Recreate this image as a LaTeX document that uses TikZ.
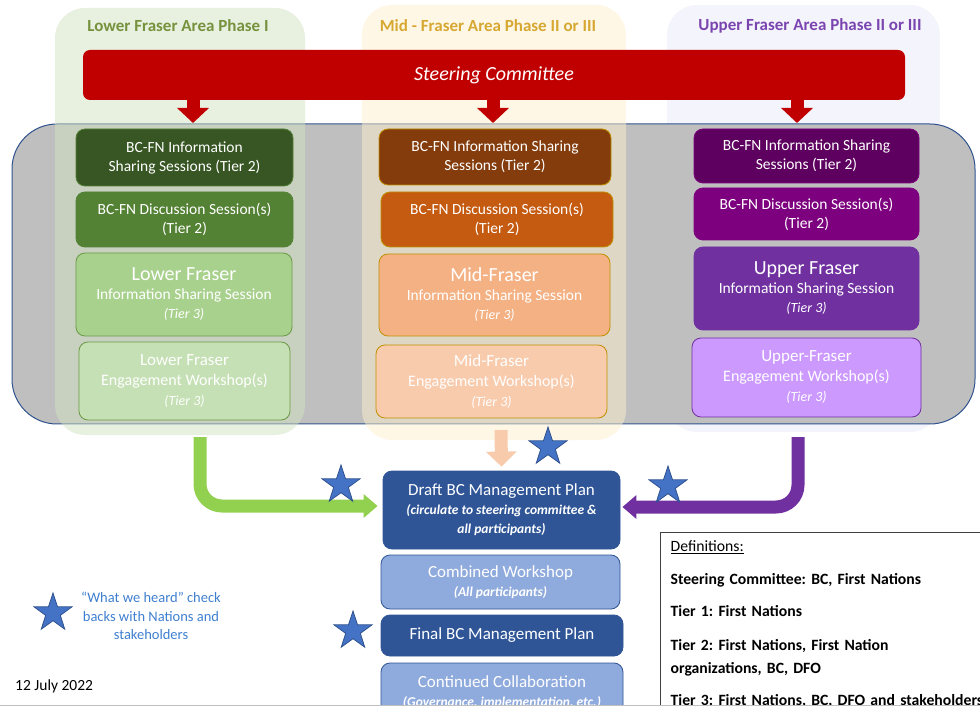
\documentclass[tikz,border=0pt]{standalone}
\usepackage{fontspec}
\setmainfont{Carlito}
\usetikzlibrary{arrows.meta,shapes.geometric}

\definecolor{sred}{HTML}{C00000}
\definecolor{lg1}{HTML}{375623}
\definecolor{lg2}{HTML}{548235}
\definecolor{lg3}{HTML}{A9D18E}
\definecolor{lg4}{HTML}{C5E0B4}
\definecolor{lgbord}{HTML}{6A9A45}
\definecolor{mo1}{HTML}{843C0C}
\definecolor{mo2}{HTML}{C55A11}
\definecolor{mo3}{HTML}{F4B183}
\definecolor{mo4}{HTML}{F8CBAD}
\definecolor{gold}{HTML}{BF9000}
\definecolor{up1}{HTML}{5E005F}
\definecolor{up2}{HTML}{7D007F}
\definecolor{up3}{HTML}{7030A0}
\definecolor{up4}{HTML}{CC99FF}
\definecolor{dblue}{HTML}{2F5597}
\definecolor{lblue}{HTML}{8FAADC}
\definecolor{starblue}{HTML}{4472C4}
\definecolor{starbord}{HTML}{2F528F}
\definecolor{panelgrey}{HTML}{BFBFBF}
\definecolor{lowbg}{HTML}{D2E1C2}
\definecolor{midbg}{HTML}{FEF0CE}
\definecolor{upbg}{HTML}{F4F4FC}
\definecolor{lowtitle}{HTML}{76923C}
\definecolor{midtitle}{HTML}{D6A731}
\definecolor{uptitle}{HTML}{7B45B0}
\definecolor{arrgreen}{HTML}{92D050}
\definecolor{keyblue}{HTML}{3F7FCF}
\definecolor{defgrey}{HTML}{404040}

\newcommand{\bigline}{\fontsize{20}{22}\selectfont}
\newcommand{\midline}{\fontsize{17}{20}\selectfont}
\newcommand{\tierline}{\fontsize{14}{17}\selectfont\itshape}

\begin{document}
\begin{tikzpicture}[x=1pt,y=-1pt,every node/.style={inner sep=0pt},
    colbg/.style={rounded corners=30pt},
    title/.style={font=\fontsize{17}{20}\selectfont\bfseries},
    box/.style={rounded corners=9pt,draw,line width=0.8pt,text=white,align=center,font=\fontsize{15.5}{19}\selectfont},
    plan/.style={box,fill=dblue,draw=dblue,font=\fontsize{13.5}{19}\selectfont\bfseries\itshape},
    downarr/.style={line width=13pt,-{Triangle[length=15pt,width=31pt]}},
    elbow/.style={line width=13pt,rounded corners=22pt,-{Triangle[length=14pt,width=23pt]}},
    checkstar/.style={star,star points=5,star point ratio=2.6,minimum size=40pt,fill=starblue,draw=starbord,line width=0.8pt}]

  \useasboundingbox (0,0) rectangle (980,708);
  \begin{scope}
    \clip (0,0) rectangle (980,705);

    \node[colbg,fill=upbg,minimum width=273pt,minimum height=427pt] (upcol) at (803.5,218.5) {};
    \node[draw=starbord,fill=panelgrey,line width=1pt,rounded corners=45pt,minimum width=963pt,minimum height=300pt] (panel) at (493.5,274) {};
    \node[colbg,fill=lowbg,fill opacity=0.5,minimum width=250pt,minimum height=427pt] (lowcol) at (180,221.5) {};
    \node[colbg,fill=midbg,fill opacity=0.5,minimum width=264pt,minimum height=435pt] (midcol) at (494,222.5) {};

    \node[title,text=lowtitle] (lowtxt) at (178,26) {Lower Fraser Area Phase I};
    \node[title,text=midtitle] (midtxt) at (488,26) {Mid - Fraser Area Phase II or III};
    \node[title,text=uptitle] (uptxt) at (810,26) {Upper Fraser Area Phase II or III};

    \node[fill=sred,rounded corners=7pt,minimum width=822pt,minimum height=50pt,text=white,font=\fontsize{20}{24}\selectfont\itshape] (steer) at (494,75) {Steering Committee};

    \node[box,fill=lg1,draw=lg2,minimum width=217pt,minimum height=57pt] (L1) at (184.5,157.5) {BC-FN Information\\Sharing Sessions (Tier 2)};
    \node[box,fill=lg2,draw=lg2,minimum width=217pt,minimum height=55pt] (L2) at (184.5,219.5) {BC-FN Discussion Session(s)\\(Tier 2)};
    \node[box,fill=lg3,draw=lgbord,minimum width=216pt,minimum height=83pt] (L3) at (184,294.5) {{\bigline Lower Fraser}\\Information Sharing Session\\{\tierline (Tier 3)}};
    \node[box,fill=lg4,draw=lgbord,minimum width=211pt,minimum height=78pt,font=\fontsize{16}{20}\selectfont] (L4) at (184.5,381) {{\midline Lower Fraser}\\Engagement Workshop(s)\\{\tierline (Tier 3)}};

    \node[box,fill=mo1,draw=gold,minimum width=232pt,minimum height=56pt] (M1) at (495,157) {BC-FN Information Sharing\\Sessions (Tier 2)};
    \node[box,fill=mo2,draw=gold,minimum width=232pt,minimum height=55pt] (M2) at (497,219.5) {BC-FN Discussion Session(s)\\(Tier 2)};
    \node[box,fill=mo3,draw=gold,minimum width=231pt,minimum height=82pt] (M3) at (494.5,295) {{\bigline Mid-Fraser}\\Information Sharing Session\\{\tierline (Tier 3)}};
    \node[box,fill=mo4,draw=gold,minimum width=231pt,minimum height=73pt,font=\fontsize{16}{20}\selectfont] (M4) at (491.5,381.5) {{\midline Mid-Fraser}\\Engagement Workshop(s)\\{\tierline (Tier 3)}};

    \node[box,fill=up1,draw=up2,minimum width=225pt,minimum height=54pt] (U1) at (806.5,156) {BC-FN Information Sharing\\Sessions (Tier 2)};
    \node[box,fill=up2,draw=up2,minimum width=225pt,minimum height=52pt] (U2) at (806.5,214) {BC-FN Discussion Session(s)\\(Tier 2)};
    \node[box,fill=up3,draw=up3,minimum width=225pt,minimum height=83pt] (U3) at (806.5,288.5) {{\bigline Upper Fraser}\\Information Sharing Session\\{\tierline (Tier 3)}};
    \node[box,fill=up4,draw=up3,minimum width=229pt,minimum height=79pt,font=\fontsize{16}{20}\selectfont] (U4) at (806.5,377.5) {{\midline Upper-Fraser}\\Engagement Workshop(s)\\{\tierline (Tier 3)}};

    \coordinate (rl) at (193,123);
    \coordinate (rm) at (493,123);
    \coordinate (ru) at (797,123);
    \draw[downarr,draw=sred] (steer.south -| rl) -- (rl);
    \draw[downarr,draw=sred] (steer.south -| rm) -- (rm);
    \draw[downarr,draw=sred] (steer.south -| ru) -- (ru);

    \node[plan,minimum width=237pt,minimum height=78pt] (draft) at (501.5,510) {{\midline\mdseries\upshape Draft BC Management Plan}\\(circulate to steering committee \&\\all participants)};
    \node[plan,fill=lblue,minimum width=239pt,minimum height=54pt] (comb) at (500.5,582) {{\midline\mdseries\upshape Combined Workshop}\\(All participants)};
    \node[plan,minimum width=242pt,minimum height=41pt] (final) at (502,635.5) {{\midline\mdseries\upshape Final BC Management Plan}};
    \node[plan,fill=lblue,minimum width=242pt,minimum height=58pt] (cont) at (502,692) {{\midline\mdseries\upshape Continued Collaboration}\\(Governance, implementation, etc.)};

    \coordinate (gs) at (200,437);
    \coordinate (ps) at (798,437);
    \coordinate (ms) at (501,430);
    \draw[elbow,draw=arrgreen] (gs) |- ([xshift=-5pt,yshift=4pt]draft.west);
    \draw[elbow,draw=up3] (ps) |- ([xshift=2pt,yshift=3pt]draft.east);
    \draw[downarr,draw=mo4,-{Triangle[length=15pt,width=30pt]}] (ms) -- ([yshift=4pt]draft.north);

    \node[checkstar] (s1) at (548,447) {};
    \node[checkstar] (s2) at (341,485) {};
    \node[checkstar] (s3) at (668,486) {};
    \node[checkstar] (s4) at (353,631) {};
    \node[checkstar] (keystar) at (53,613) {};

    \node[text=keyblue,align=center,font=\fontsize{14.5}{18.5}\selectfont] (keytxt) at (151,616) {“What we heard” check\\backs with Nations and\\stakeholders};
    \node[anchor=west,font=\fontsize{15.5}{18}\selectfont] (date) at (15,686) {12 July 2022};

    \node[draw=defgrey,line width=1.3pt,anchor=north west,text width=320pt,inner xsep=10pt,inner ysep=8pt,align=left,font=\fontsize{15.7}{23}\selectfont\bfseries\frenchspacing] (defs) at (660,532) {{\mdseries\underline{Definitions:}}\\[10pt]Steering Committee: BC, First Nations\\[9pt]Tier 1: First Nations\\[11pt]Tier 2: First Nations, First Nation\\organizations, BC, DFO\\[9pt]Tier 3: First Nations, BC, DFO and stakeholders};
  \end{scope}
  \draw[black!25,line width=1pt] (0,705.5) -- (980,705.5);
\end{tikzpicture}
\end{document}
